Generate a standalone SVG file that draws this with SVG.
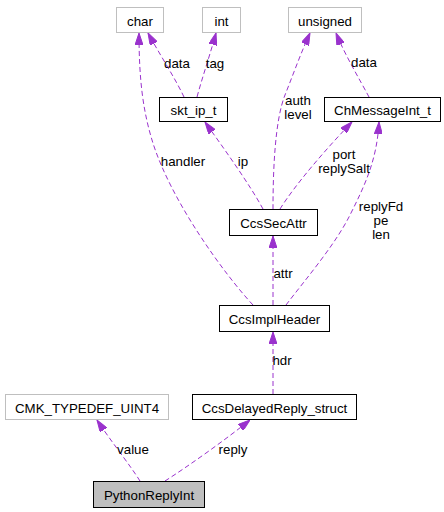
<svg xmlns="http://www.w3.org/2000/svg" width="444" height="512" viewBox="0 0 444 512">
<style>
text{font-family:"Liberation Sans",Arial,Helvetica,sans-serif;font-size:13.3px;fill:#000;text-anchor:middle}
.n rect{fill:#fff;stroke:#000;stroke-width:1}
.g rect{fill:#fff;stroke:#bfbfbf;stroke-width:1}
.c rect{fill:#bfbfbf;stroke:#000;stroke-width:1}
.e path{fill:none;stroke:#9a32cd;stroke-width:1;stroke-dasharray:5,3;marker-end:url(#ah)}
</style>
<defs>
<marker id="ah" viewBox="0 0 12 8" refX="12" refY="4" markerWidth="12" markerHeight="8" markerUnits="userSpaceOnUse" orient="auto">
<path d="M0,0 L12,4 L0,8 z" fill="#9a32cd" stroke="#9a32cd"/>
</marker>
</defs>
<rect width="444" height="512" fill="#fff"/>
<g id="edges" class="e">
<path d="M184,97 C175,78 160,55 148,33"/>
<path d="M197,97 C203,75 210,55 216,33"/>
<path d="M253,305 C225,275 170,200 152,140 C143,110 139,80 139,33"/>
<path d="M263,209 C250,185 225,150 205,122"/>
<path d="M273,209 C273,170 275,120 285,95 C293,75 300,55 310,33"/>
<path d="M280,209 C295,185 325,150 352,122"/>
<path d="M369,97 C360,80 345,55 336,33"/>
<path d="M273,305 L273,236"/>
<path d="M286,305 C305,280 335,245 350,215 C365,185 377,160 379,122"/>
<path d="M273,394 L273,332"/>
<path d="M140,481 C130,465 110,440 97,420"/>
<path d="M165,481 C190,465 225,440 250,420"/>
</g>
<g id="edge-labels">
<text x="177" y="68">data</text>
<text x="215" y="68">tag</text>
<text x="183" y="166">handler</text>
<text x="243" y="166">ip</text>
<text x="298" y="105">auth</text>
<text x="298" y="119">level</text>
<text x="344" y="159">port</text>
<text x="344" y="173">replySalt</text>
<text x="364" y="67">data</text>
<text x="283" y="278">attr</text>
<text x="381" y="211">replyFd</text>
<text x="381" y="225">pe</text>
<text x="381" y="239">len</text>
<text x="282" y="365">hdr</text>
<text x="133" y="454">value</text>
<text x="233" y="454">reply</text>
</g>
<g id="char" class="g"><rect x="116.5" y="7.5" width="47" height="25"/><text x="140" y="25.5">char</text></g>
<g id="int" class="g"><rect x="202.5" y="7.5" width="38" height="25"/><text x="221.5" y="25.5">int</text></g>
<g id="unsigned" class="g"><rect x="288.5" y="7.5" width="73" height="25"/><text x="325" y="25.5">unsigned</text></g>
<g id="skt_ip_t" class="n"><rect x="159.5" y="97.5" width="68" height="24"/><text x="193.5" y="115">skt_ip_t</text></g>
<g id="ChMessageInt_t" class="n"><rect x="324.5" y="97.5" width="116" height="24"/><text x="382.5" y="115">ChMessageInt_t</text></g>
<g id="CcsSecAttr" class="n"><rect x="229.5" y="209.5" width="88" height="26"/><text x="273.5" y="228">CcsSecAttr</text></g>
<g id="CcsImplHeader" class="n"><rect x="219.5" y="305.5" width="110" height="26"/><text x="274.5" y="324">CcsImplHeader</text></g>
<g id="CMK_TYPEDEF_UINT4" class="g"><rect x="5.5" y="394.5" width="163" height="25"/><text x="87" y="413">CMK_TYPEDEF_UINT4</text></g>
<g id="CcsDelayedReply_struct" class="n"><rect x="192.5" y="394.5" width="164" height="25"/><text x="274.5" y="413">CcsDelayedReply_struct</text></g>
<g id="PythonReplyInt" class="c"><rect x="93.5" y="481.5" width="111" height="26"/><text x="149" y="500">PythonReplyInt</text></g>
</svg>
